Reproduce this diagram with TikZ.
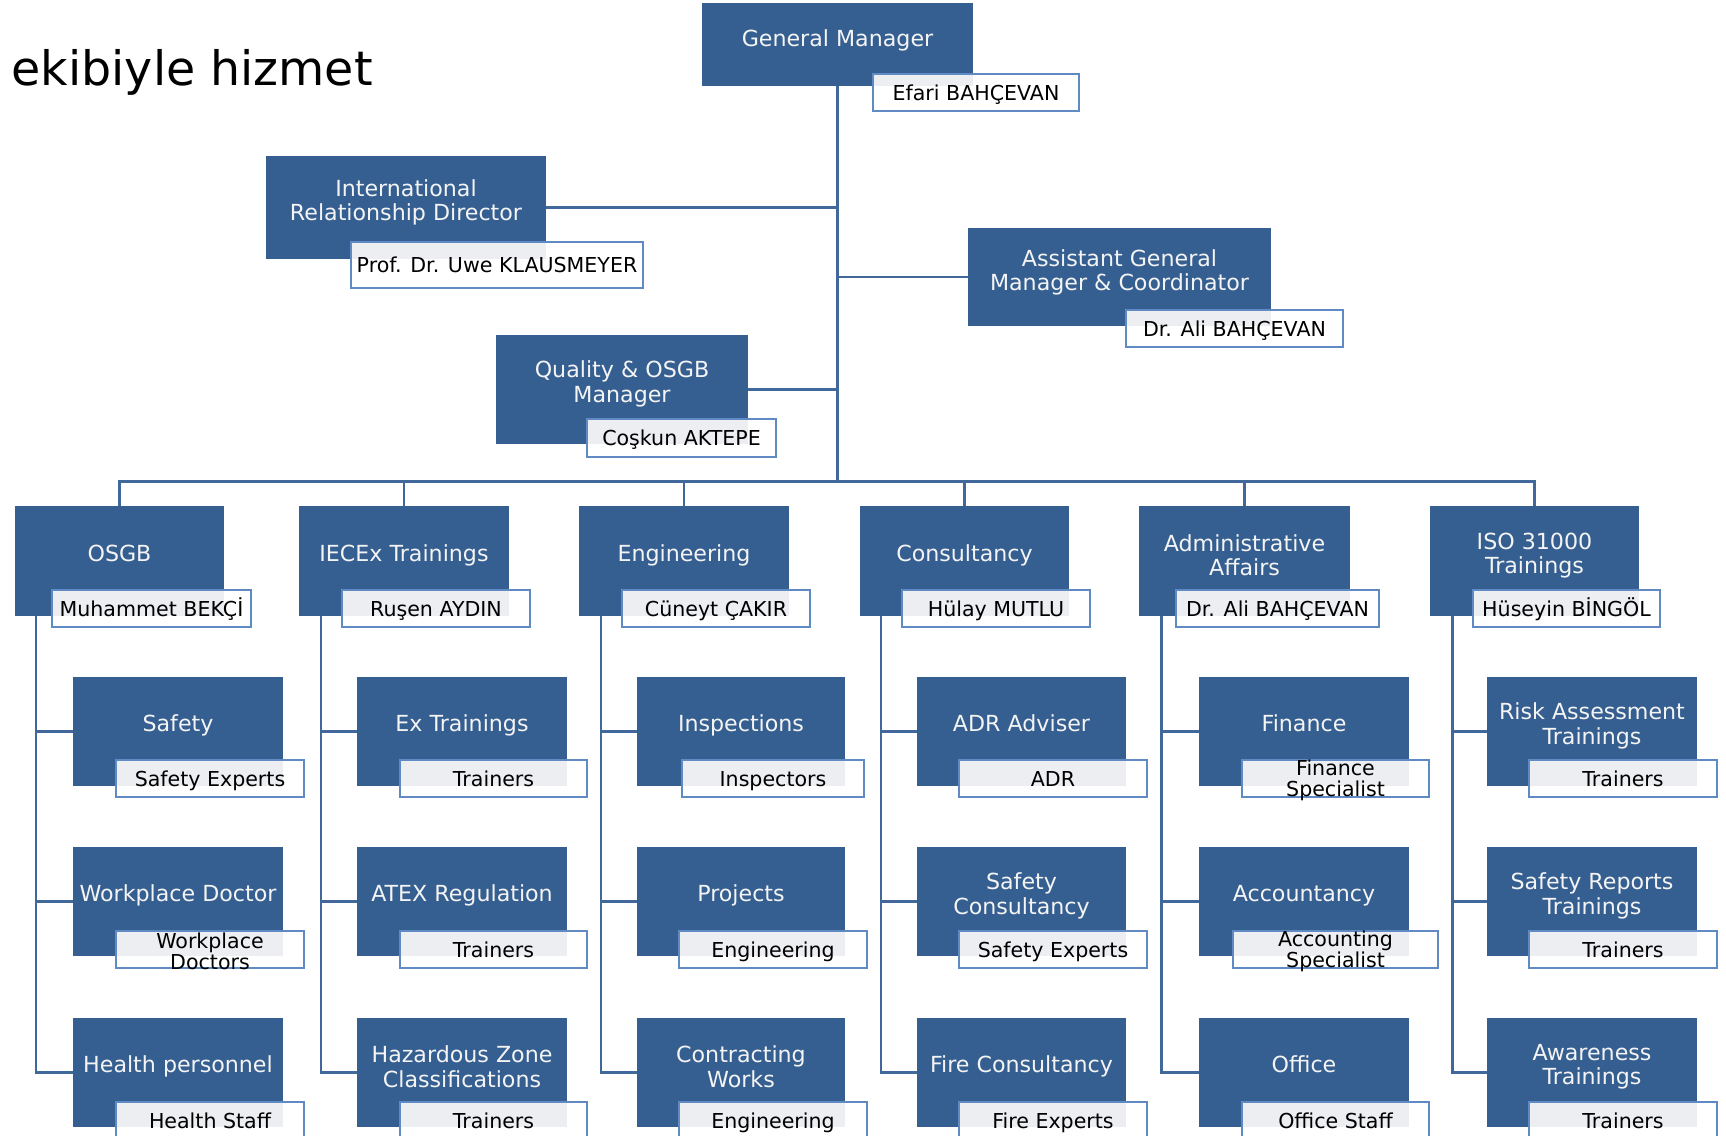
\documentclass[tikz,border=0pt]{standalone}
\usepackage{fontspec}
\setmainfont{DejaVu Sans}
\usetikzlibrary{calc}
\definecolor{boxblue}{HTML}{365F91}
\definecolor{lineblue}{HTML}{41689B}
\definecolor{nameborder}{HTML}{5F8AC4}
\definecolor{ovl}{HTML}{ECEEF2}
\definecolor{utextc}{HTML}{F4F4F4}
\pgfdeclarelayer{bg}
\pgfsetlayers{bg,main}
\tikzset{
  ubox/.style={fill=boxblue, draw=none, inner sep=0pt, outer sep=0pt},
  utext/.style={text=utextc, font=\fontsize{6.3}{6.9}\selectfont, align=center, inner sep=0pt,
    text height=4.6pt, text depth=0pt},
  nbox/.style={fill=white, draw=nameborder, line width=0.55pt, inner sep=0pt, outer sep=0pt},
  ntext/.style={text=black, font=\fontsize{5.85}{6.0}\selectfont, align=center, inner sep=0pt,
    text height=4.27pt, text depth=0pt},
  two/.style={text height={}, text depth={}, yshift=-0.55pt},
}
\tikzset{conn/.style={draw=lineblue, line width=0.85pt}}
% [extra], name, x1, y1, x2, y2, text
\newcommand\ubx[7][]{%
  \node[ubox, anchor=north west, minimum width={(#5-#3)*0.01cm}, minimum height={(#6-#4)*0.01cm}] (#2) at (#3,#4) {};
  \node[utext, #1] (#2-t) at ($(#2.north)!0.43!(#2.south)$) {#7};
}
% [extra], name, parent, x1, y1, x2, y2, text
\newcommand\nbx[8][]{%
  \node[nbox, anchor=north west, minimum width={(#6-#4)*0.01cm}, minimum height={(#7-#5)*0.01cm}] (#2) at (#4,#5) {};
  \fill[ovl] ([shift={(0.3pt,-0.3pt)}]#2.north west) rectangle (#3.south east);
  \node[ntext, #1] (#2-t) at (#2.center) {#8};
}
\begin{document}
\begin{tikzpicture}[x=0.01cm,y=-0.01cm]
\useasboundingbox (0,0) rectangle (1726,1136);
\clip (0,0) rectangle (1726,1136);
\begin{pgfonlayer}{bg}
\fill[white] (0,0) rectangle (1726,1136);
\end{pgfonlayer}

\node[anchor=base west, inner sep=0pt, font=\fontsize{13.5}{16}\selectfont] (title) at (11,85) {ekibiyle hizmet};

% top level
\ubx{gm}{702}{3}{973}{86}{General Manager}
\nbx{gmN}{gm}{873}{74}{1079}{111}{Efari BAHÇEVAN}
\ubx[two]{intl}{266}{156}{546}{259}{International\\Relationship Director}
\nbx{intlN}{intl}{351}{242}{643}{288}{Prof. Dr. Uwe KLAUSMEYER}
\ubx[two]{agm}{968}{228}{1271}{326}{Assistant General\\Manager \& Coordinator}
\nbx{agmN}{agm}{1126}{310}{1343}{347}{Dr. Ali BAHÇEVAN}
\ubx[two]{qm}{496}{335}{748}{444}{Quality \& OSGB\\Manager}
\nbx{qmN}{qm}{587}{419}{776}{457}{Coşkun AKTEPE}

% level 2
\ubx{osgb}{15}{506}{224}{616}{OSGB}
\nbx{osgbN}{osgb}{52}{590}{251}{627}{Muhammet BEKÇİ}
\ubx{iecex}{299}{506}{509}{616}{IECEx Trainings}
\nbx{iecexN}{iecex}{342}{590}{530}{627}{Ruşen AYDIN}
\ubx{eng}{579}{506}{789}{616}{Engineering}
\nbx{engN}{eng}{622}{590}{810}{627}{Cüneyt ÇAKIR}
\ubx{cons}{860}{506}{1069}{616}{Consultancy}
\nbx{consN}{cons}{902}{590}{1090}{627}{Hülay MUTLU}
\ubx[two]{adm}{1139}{506}{1350}{616}{Administrative\\Affairs}
\nbx{admN}{adm}{1176}{590}{1379}{627}{Dr. Ali BAHÇEVAN}
\ubx[two]{iso}{1430}{506}{1639}{616}{ISO 31000\\Trainings}
\nbx{isoN}{iso}{1473}{590}{1660}{627}{Hüseyin BİNGÖL}

% column 1
\ubx{a1}{73}{677}{283}{786}{Safety}
\nbx{a1N}{a1}{116}{760}{304}{797}{Safety Experts}
\ubx{a2}{73}{847}{283}{956}{Workplace Doctor}
\nbx[two]{a2N}{a2}{116}{931}{304}{968}{Workplace\\Doctors}
\ubx{a3}{73}{1018}{283}{1127}{Health personnel}
\nbx{a3N}{a3}{116}{1102}{304}{1139}{Health Staff}
% column 2
\ubx{b1}{357}{677}{567}{786}{Ex Trainings}
\nbx{b1N}{b1}{400}{760}{587}{797}{Trainers}
\ubx{b2}{357}{847}{567}{956}{ATEX Regulation}
\nbx{b2N}{b2}{400}{931}{587}{968}{Trainers}
\ubx[two]{b3}{357}{1018}{567}{1127}{Hazardous Zone\\Classifications}
\nbx{b3N}{b3}{400}{1102}{587}{1139}{Trainers}
% column 3
\ubx{c1}{637}{677}{845}{786}{Inspections}
\nbx{c1N}{c1}{682}{760}{864}{797}{Inspectors}
\ubx{c2}{637}{847}{845}{956}{Projects}
\nbx{c2N}{c2}{679}{931}{867}{968}{Engineering}
\ubx[two]{c3}{637}{1018}{845}{1127}{Contracting\\Works}
\nbx{c3N}{c3}{679}{1102}{867}{1139}{Engineering}
% column 4
\ubx{d1}{917}{677}{1126}{786}{ADR Adviser}
\nbx{d1N}{d1}{959}{760}{1147}{797}{ADR}
\ubx[two]{d2}{917}{847}{1126}{956}{Safety\\Consultancy}
\nbx{d2N}{d2}{959}{931}{1147}{968}{Safety Experts}
\ubx{d3}{917}{1018}{1126}{1127}{Fire Consultancy}
\nbx{d3N}{d3}{959}{1102}{1147}{1139}{Fire Experts}
% column 5
\ubx{e1}{1199}{677}{1409}{786}{Finance}
\nbx[two]{e1N}{e1}{1242}{760}{1429}{797}{Finance\\Specialist}
\ubx{e2}{1199}{847}{1409}{956}{Accountancy}
\nbx[two]{e2N}{e2}{1233}{931}{1438}{968}{Accounting\\Specialist}
\ubx{e3}{1199}{1018}{1409}{1127}{Office}
\nbx{e3N}{e3}{1242}{1102}{1429}{1139}{Office Staff}
% column 6
\ubx[two]{f1}{1487}{677}{1697}{786}{Risk Assessment\\Trainings}
\nbx{f1N}{f1}{1529}{760}{1717}{797}{Trainers}
\ubx[two]{f2}{1487}{847}{1697}{956}{Safety Reports\\Trainings}
\nbx{f2N}{f2}{1529}{931}{1717}{968}{Trainers}
\ubx[two]{f3}{1487}{1018}{1697}{1127}{Awareness\\Trainings}
\nbx{f3N}{f3}{1529}{1102}{1717}{1139}{Trainers}

% connectors
\begin{pgfonlayer}{bg}
  \coordinate (bus) at (gm.south |- 0,481);
  \draw[conn] (gm.south) -- (bus);
  \draw[conn] (intl.east) -- (intl.east -| gm.south);
  \draw[conn] (agm.west) -- (agm.west -| gm.south);
  \draw[conn] (qm.east) -- (qm.east -| gm.south);
  \foreach \n in {osgb,iecex,eng,cons,adm,iso}
    \draw[conn] (bus) -| (\n.north);
  \coordinate (ta) at (36,616);
  \coordinate (tb) at (321,616);
  \coordinate (tc) at (601,616);
  \coordinate (td) at (881,616);
  \coordinate (te) at (1161,616);
  \coordinate (tf) at (1452,616);
  \foreach \t/\c in {ta/a,tb/b,tc/c,td/d,te/e,tf/f}{
    \draw[conn] (\t) |- (\c3.west);
    \draw[conn] (\c1.west -| \t) -- (\c1.west);
    \draw[conn] (\c2.west -| \t) -- (\c2.west);
  }
\end{pgfonlayer}
\end{tikzpicture}
\end{document}
